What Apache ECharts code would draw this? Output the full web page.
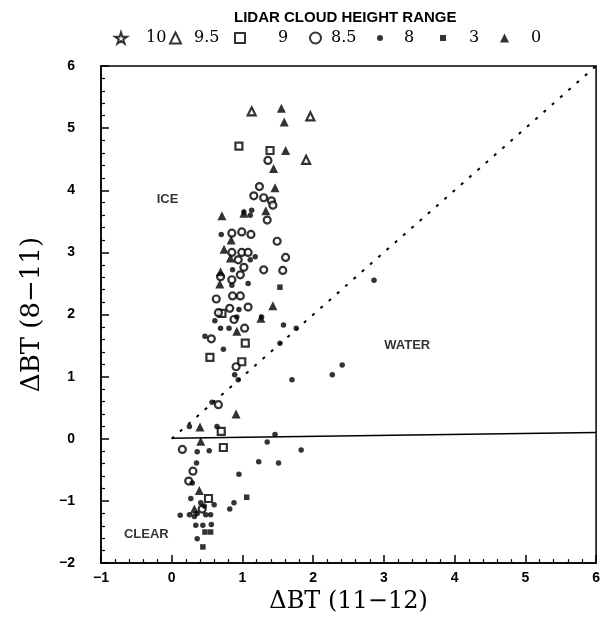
<!DOCTYPE html>
<html>
<head>
<meta charset="utf-8">
<script src="https://cdn.jsdelivr.net/npm/echarts@6/dist/echarts.min.js"></script>
<style>html,body{margin:0;padding:0;background:#fff}#c{width:603px;height:619px}</style>
</head>
<body>
<div id="c"></div>
<script>
// ---- data ----
var xTicks = [-1, 0, 1, 2, 3, 4, 5, 6];
var yTicks = [-2, -1, 0, 1, 2, 3, 4, 5, 6];
var legendNames = ['10', '9.5', '9', '8.5', '8', '3', '0'];
var s10 = [];
var s95 = [[1.13,5.27],[1.96,5.19],[1.90,4.49]];
var s9 = [[0.95,4.71],[1.39,4.64],[1.04,1.54],[0.54,1.31],[0.99,1.24],[0.70,0.12],[0.73,-0.14],[0.52,-0.96],[0.71,2.02]];
var s85 = [[1.36,4.48],[1.24,4.06],[1.16,3.91],[1.30,3.88],[1.41,3.83],[1.43,3.76],[1.35,3.52],[0.85,3.31],[0.99,3.33],[1.12,3.29],[1.49,3.18],[0.85,3.00],[0.99,3.00],[1.08,3.00],[0.94,2.88],[1.61,2.92],[1.02,2.76],[1.30,2.72],[1.57,2.71],[0.69,2.61],[0.85,2.56],[0.97,2.64],[0.63,2.25],[0.86,2.30],[0.97,2.30],[0.66,2.03],[0.82,2.10],[1.08,2.12],[0.88,1.92],[1.03,1.78],[0.56,1.61],[0.91,1.16],[0.66,0.55],[0.15,-0.17],[0.30,-0.52],[0.24,-0.68],[0.43,-1.13]];
var s8 = [[1.02,3.65],[1.13,3.68],[1.11,3.60],[0.70,3.29],[1.11,2.88],[1.18,2.93],[0.86,2.72],[0.85,2.47],[1.08,2.50],[0.95,2.08],[1.27,1.96],[0.61,1.90],[0.92,1.96],[1.58,1.83],[1.76,1.78],[0.69,1.78],[0.81,1.78],[0.47,1.65],[0.73,1.44],[0.89,1.03],[0.94,0.95],[1.70,0.95],[0.57,0.59],[0.25,0.20],[0.64,0.20],[1.46,0.07],[1.35,-0.05],[1.83,-0.18],[0.36,-0.21],[0.53,-0.19],[0.35,-0.39],[1.23,-0.37],[1.51,-0.39],[0.95,-0.57],[0.29,-0.71],[0.27,-0.96],[0.41,-1.03],[0.60,-1.06],[0.88,-1.03],[0.82,-1.13],[0.12,-1.23],[0.25,-1.22],[0.32,-1.25],[0.48,-1.22],[0.55,-1.22],[0.46,-1.08],[0.36,-1.20],[0.34,-1.39],[0.44,-1.39],[0.56,-1.38],[0.36,-1.61],[2.86,2.55],[2.41,1.19],[2.27,1.03],[1.53,1.54]];
var s3 = [[1.53,2.44],[1.06,-0.94],[0.47,-1.50],[0.55,-1.50],[0.44,-1.74]];
var s0 = [[1.55,5.32],[1.59,5.10],[1.61,4.64],[1.44,4.35],[1.46,4.04],[1.33,3.67],[0.71,3.59],[1.02,3.63],[0.84,3.20],[0.74,3.05],[0.83,2.91],[0.69,2.69],[0.68,2.49],[1.43,2.14],[1.26,1.94],[0.92,1.73],[0.91,0.40],[0.40,0.19],[0.41,-0.04],[0.39,-0.83],[0.32,-1.13]];
var diagLine = [[0,0],[6,6]];
var zeroLine = [[0,0.01],[6,0.1]];
var regionLabels = [{name:'ICE', value:[-0.06,3.85]},{name:'WATER', value:[3.33,1.51]},{name:'CLEAR', value:[-0.36,-1.54]}];

var STAR = 'path://M50,0 L61,35 L98,35 L68,57 L79,91 L50,70 L21,91 L32,57 L2,35 L39,35 Z';
var chart = echarts.init(document.getElementById('c'));
function lg(name, left, w, pad){
  return {data:[name], left:left, top:25, itemWidth:w, itemHeight:w, itemGap:0, selectedMode:false,
    textStyle:{fontFamily:'DejaVu Serif', fontSize:16, color:'#000', padding:[0,0,0,pad]}};
}
var axisLabelStyle = {color:'#000', fontFamily:'Liberation Sans', fontWeight:'bold', fontSize:14};
var hollow = {color:'#fff', borderColor:'#000', borderWidth:2.2};
chart.setOption({
  animation:false,
  backgroundColor:'#fff',
  title:{text:'LIDAR CLOUD HEIGHT RANGE', left:229, top:5,
    textStyle:{fontFamily:'Liberation Sans', fontWeight:'bold', fontSize:15, color:'#000'}},
  legend:[lg('10',109,12,14), lg('9.5',164,11,8), lg('9',229,10,28), lg('8.5',304,11,5),
          lg('8',372,6,16), lg('3',435,6,18), lg('0',495,9,17)],
  grid:{left:101, right:2, top:66, bottom:54, show:true, borderColor:'#000', borderWidth:1.5},
  xAxis:{type:'value', min:-1, max:6, interval:1,
    name:'\u0394BT (11\u221212)', nameLocation:'middle', nameGap:22,
    nameTextStyle:{fontFamily:'DejaVu Serif', fontSize:24, color:'#000'},
    axisLine:{onZero:false, lineStyle:{color:'#000', width:1.5}},
    axisTick:{inside:true, length:8, lineStyle:{color:'#000', width:1.5}},
    minorTick:{show:true, splitNumber:5, length:4, lineStyle:{color:'#000', width:1.2}},
    splitLine:{show:false},
    axisLabel:Object.assign({margin:8, formatter:function(v){return v<0?'\u2212'+(-v):''+v;}}, axisLabelStyle)},
  yAxis:{type:'value', min:-2, max:6, interval:1,
    name:'\u0394BT (8\u221211)', nameLocation:'middle', nameGap:56,
    nameTextStyle:{fontFamily:'DejaVu Serif', fontSize:26, color:'#000'},
    axisLine:{onZero:false, lineStyle:{color:'#000', width:1.5}},
    axisTick:{inside:true, length:8, lineStyle:{color:'#000', width:1.5}},
    minorTick:{show:true, splitNumber:5, length:4, lineStyle:{color:'#000', width:1.2}},
    splitLine:{show:false},
    axisLabel:Object.assign({margin:26, formatter:function(v){return v<0?'\u2212'+(-v):''+v;}}, axisLabelStyle)},
  series:[
    {type:'line', data:diagLine, symbol:'none', silent:true, lineStyle:{color:'#000', width:2, type:[3,8]}, z:1},
    {type:'line', data:zeroLine, symbol:'none', silent:true, lineStyle:{color:'#000', width:1.5}, z:1},
    {type:'scatter', data:regionLabels, symbolSize:0, silent:true,
      label:{show:true, formatter:'{b}', position:'inside', color:'#000', fontFamily:'Liberation Sans', fontWeight:'bold', fontSize:13}},
    {name:'10', type:'scatter', data:s10, symbol:STAR, symbolSize:11, itemStyle:{color:'#fff', borderColor:'#000', borderWidth:1.5}},
    {name:'9.5', type:'scatter', data:s95, symbol:'triangle', symbolSize:8, itemStyle:hollow},
    {name:'9', type:'scatter', data:s9, symbol:'rect', symbolSize:7, itemStyle:hollow},
    {name:'8.5', type:'scatter', data:s85, symbol:'circle', symbolSize:7, itemStyle:hollow},
    {name:'8', type:'scatter', data:s8, symbol:'circle', symbolSize:5.5, itemStyle:{color:'#000'}},
    {name:'3', type:'scatter', data:s3, symbol:'rect', symbolSize:5.5, itemStyle:{color:'#000'}},
    {name:'0', type:'scatter', data:s0, symbol:'triangle', symbolSize:9, itemStyle:{color:'#000'}}
  ]
});
</script>
</body>
</html>
